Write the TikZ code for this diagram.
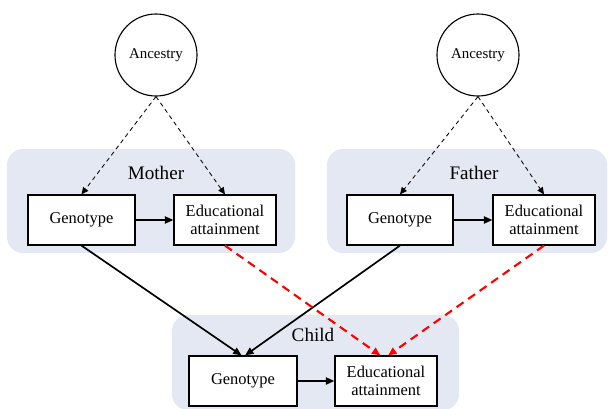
\documentclass[tikz,border=0pt]{standalone}
\usepackage{fontspec}
\setmainfont{Liberation Serif}
\usetikzlibrary{arrows.meta}
\definecolor{groupfill}{HTML}{E4E8F3}

\begin{document}
\begin{tikzpicture}[x=0.025cm, y=-0.025cm,
	group/.style={fill=groupfill, rounded corners=0.4cm, inner sep=0pt},
	box/.style={draw, line width=0.8pt, fill=white, minimum height=1.25cm, align=center, inner sep=1pt, font=\fontsize{11.7}{13}\selectfont},
	anc/.style={draw, circle, line width=0.8pt, fill=white, minimum size=2.05cm, inner sep=0pt, font=\fontsize{10.6}{12}\selectfont},
	title/.style={font=\fontsize{13.6}{15}\selectfont},
	ancarrow/.style={-{Triangle[length=5pt, width=4.5pt]}, line width=0.6pt, dash pattern=on 3pt off 2.5pt},
	gene/.style={-{Triangle[length=6pt, width=5pt]}, line width=1.2pt},
	edu/.style={-{Triangle[length=6pt, width=5pt]}, red, line width=1.5pt, dash pattern=on 6pt off 4pt}]
	\useasboundingbox (0,0) rectangle (608,409);

	\node[group, minimum width=7.2cm, minimum height=2.6cm]		(mgrp) at (151,201) {};
	\node[group, minimum width=7cm, minimum height=2.6cm]		(fgrp) at (467,201) {};
	\node[group, minimum width=7.175cm, minimum height=2.375cm]	(cgrp) at (315.5,362.5) {};

	\node[title]	(mlab) at (156,173) {Mother};
	\node[title]	(flab) at (474,173) {Father};
	\node[title]	(clab) at (313,335) {Child};

	\node[anc]	(manc) at (156,55) {Ancestry};
	\node[anc]	(fanc) at (478,55) {Ancestry};

	\node[box, minimum width=2.675cm]	(mgen) at (81.5,220) {Genotype};
	\node[box, minimum width=2.55cm]	(medu) at (225,220) {Educational\\attainment};
	\node[box, minimum width=2.65cm]	(fgen) at (400,220) {Genotype};
	\node[box, minimum width=2.55cm]	(fedu) at (544,220) {Educational\\attainment};
	\node[box, minimum width=2.7cm]		(cgen) at (243,381) {Genotype};
	\node[box, minimum width=2.55cm]	(cedu) at (386,381) {Educational\\attainment};

	\draw[ancarrow]	(manc.south) -- (mgen.north);
	\draw[ancarrow]	(manc.south) -- (medu.north);
	\draw[ancarrow]	(fanc.south) -- (fgen.north);
	\draw[ancarrow]	(fanc.south) -- (fedu.north);

	\draw[gene]	(mgen) -- (medu);
	\draw[gene]	(fgen) -- (fedu);
	\draw[gene]	(cgen) -- (cedu);
	\draw[gene]	(mgen.south) -- ([xshift=-1pt]cgen.north);
	\draw[gene]	(fgen.south) -- ([xshift=1.5pt]cgen.north);

	\draw[edu]	(medu.south) -- ([xshift=-4pt]cedu.north);
	\draw[edu]	(fedu.south) -- ([xshift=1.5pt]cedu.north);
\end{tikzpicture}
\end{document}
